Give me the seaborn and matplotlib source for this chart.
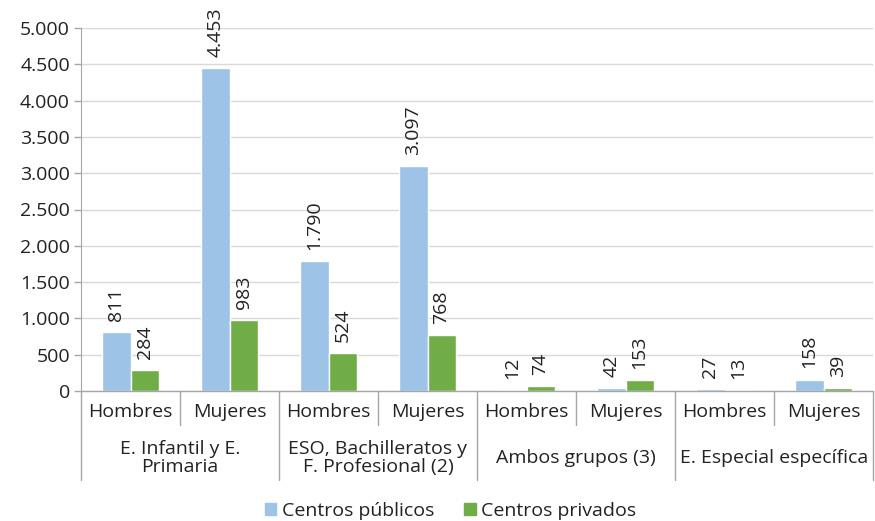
import pandas as pd
import matplotlib.pyplot as plt
import matplotlib.transforms as mtransforms
from matplotlib.patches import Patch
import seaborn as sns

# Data
groups = ["E. Infantil y E.\nPrimaria", "ESO, Bachilleratos y\nF. Profesional (2)",
          "Ambos grupos (3)", "E. Especial específica"]
sexes = ["Hombres", "Mujeres"]
publicos = [811, 4453, 1790, 3097, 12, 42, 27, 158]
privados = [284, 983, 524, 768, 74, 153, 13, 39]
series = ["Centros públicos", "Centros privados"]
colors = ["#9DC3E6", "#70AD47"]

slots = [f"{g}|{s}" for g in groups for s in sexes]
df = pd.DataFrame({
    "slot": slots * 2,
    "valor": publicos + privados,
    "serie": [series[0]] * len(slots) + [series[1]] * len(slots),
})

sns.set_style("white")
plt.rcParams["font.family"] = ["Open Sans", "DejaVu Sans"]
FS = 14
TXT = "#222222"

fig = plt.figure(figsize=(8.75, 5.21), dpi=100)
ax = fig.add_axes([81 / 875, 1 - 391 / 521, 792 / 875, 363 / 521])

sns.barplot(data=df, x="slot", y="valor", hue="serie", order=slots,
            palette=colors, width=0.57, gap=0, saturation=1, ax=ax, legend=False)

ax.set_xlim(-0.5, 7.5)
ax.set_ylim(0, 5000)
ax.set_yticks(range(0, 5001, 500))
ax.set_yticklabels([f"{v:,}".replace(",", ".") for v in range(0, 5001, 500)],
                   fontsize=FS, color=TXT)
ax.yaxis.grid(True, color="#d9d9d9", linewidth=1)
ax.set_axisbelow(True)
ax.tick_params(axis="y", length=5, color="#a6a6a6", width=1, pad=3, left=True)
ax.set_xticks([])
ax.set_xlabel("")
ax.set_ylabel("")
for side in ["top", "right", "bottom"]:
    ax.spines[side].set_visible(False)
ax.spines["left"].set_color("#a6a6a6")

# Value labels
for cont in ax.containers:
    labels = [f"{int(b.get_height()):,}".replace(",", ".") for b in cont]
    ax.bar_label(cont, labels=labels, rotation=90, padding=8, fontsize=FS, color=TXT)

# Multi-level x axis
trans = mtransforms.blended_transform_factory(ax.transData, ax.transAxes)
px = 1 / 363
ax.plot([-0.5, 7.5], [0, 0], transform=trans, color="#a6a6a6", lw=1, clip_on=False)
for i, s in enumerate(slots):
    ax.text(i, -21 * px, s.split("|")[1], transform=trans, ha="center", va="center",
            fontsize=FS, color=TXT)
for i in range(len(groups)):
    ax.plot([2 * i + 0.5] * 2, [0, -34 * px], transform=trans, color="#a6a6a6", lw=1, clip_on=False)
    ax.text(2 * i + 0.5, -67 * px, groups[i], transform=trans, ha="center", va="center",
            fontsize=FS, color=TXT, linespacing=1.05)
for x in [-0.5, 1.5, 3.5, 5.5, 7.5]:
    ax.plot([x, x], [0, -89 * px], transform=trans, color="#a6a6a6", lw=1, clip_on=False)

handles = [Patch(color=c, label=l) for c, l in zip(colors, series)]
fig.legend(handles=handles, loc="center", bbox_to_anchor=(0.515, 1 - 511 / 521), ncol=2,
           frameon=False, fontsize=FS, handlelength=0.6, handleheight=0.6,
           handletextpad=0.3, columnspacing=1.5, labelcolor=TXT)

fig.savefig("out.png", dpi=100)
